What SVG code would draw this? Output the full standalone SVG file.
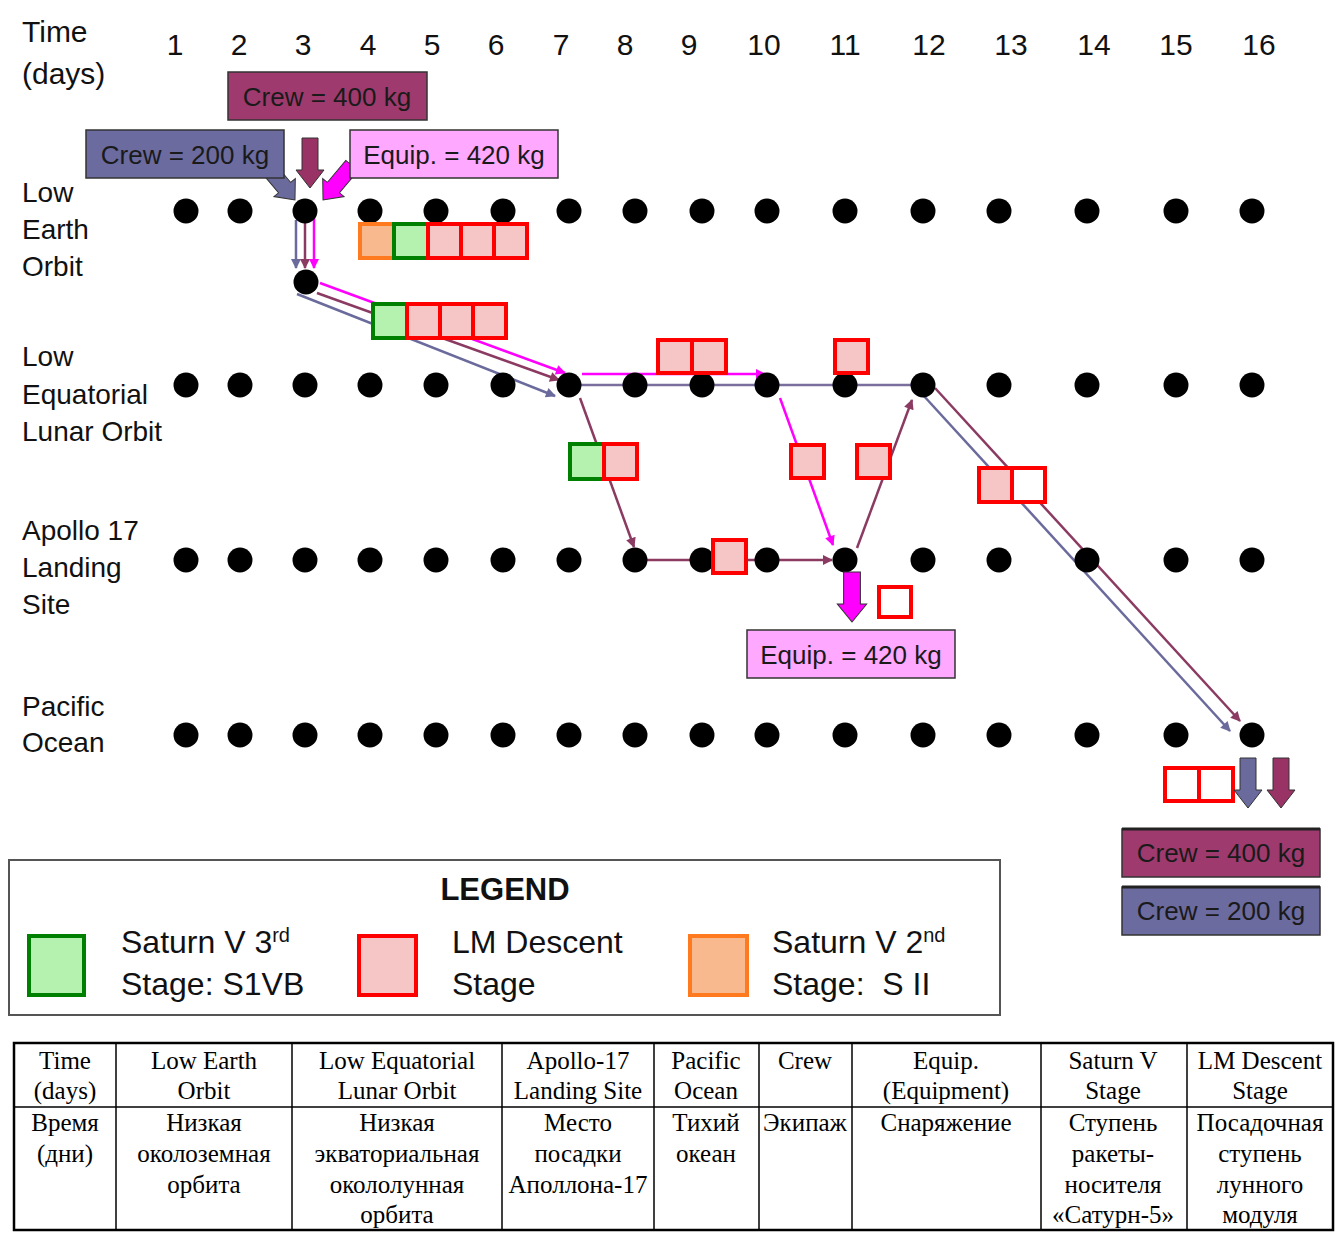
<svg xmlns="http://www.w3.org/2000/svg" width="1335" height="1237" viewBox="0 0 1335 1237">
<style>
.t{font-family:"Liberation Sans",Arial,sans-serif;fill:#111}
.hd{font-size:30px}
.rl{font-size:28px}
.lb{font-size:26px;fill:#1a1a1a}
.lg{font-size:32px}
.tb{font-family:"Liberation Serif","Times New Roman",serif;font-size:25px;fill:#000;text-anchor:middle}
.dot{fill:#000}
.red{fill:#f6c6c6;stroke:#ff0000;stroke-width:4}
.redw{fill:#fff;stroke:#ff0000;stroke-width:4}
.grn{fill:#b5f2b0;stroke:#008000;stroke-width:4}
.org{fill:#f8b98e;stroke:#ff7a1f;stroke-width:4}
.ln{fill:none;stroke-width:2.5}
.mg{stroke:#ff00ff}
.mr{stroke:#8b3a62}
.sl{stroke:#6a6a9c}
.box{stroke:#333;stroke-width:1.5}
</style>
<defs>
<marker id="amg" viewBox="0 0 10 10" refX="9" refY="5" markerWidth="13" markerHeight="10" markerUnits="userSpaceOnUse" orient="auto"><path d="M0,0L10,5L0,10z" fill="#ff00ff"/></marker>
<marker id="amr" viewBox="0 0 10 10" refX="9" refY="5" markerWidth="13" markerHeight="10" markerUnits="userSpaceOnUse" orient="auto"><path d="M0,0L10,5L0,10z" fill="#8b3a62"/></marker>
<marker id="asl" viewBox="0 0 10 10" refX="9" refY="5" markerWidth="13" markerHeight="10" markerUnits="userSpaceOnUse" orient="auto"><path d="M0,0L10,5L0,10z" fill="#6a6a9c"/></marker>
<path id="barrow" d="M-8,-50L8,-50L8,-18L14,-18L0,0L-14,-18L-8,-18z"/>
</defs>

<g id="axis-labels">
<text class="t hd" x="22" y="42">Time</text>
<text class="t hd" x="22" y="84">(days)</text>
<g class="t hd" text-anchor="middle">
<text x="175" y="55">1</text><text x="239" y="55">2</text><text x="303" y="55">3</text><text x="368" y="55">4</text>
<text x="432" y="55">5</text><text x="496" y="55">6</text><text x="561" y="55">7</text><text x="625" y="55">8</text>
<text x="689" y="55">9</text><text x="764" y="55">10</text><text x="845" y="55">11</text><text x="929" y="55">12</text>
<text x="1011" y="55">13</text><text x="1094" y="55">14</text><text x="1176" y="55">15</text><text x="1259" y="55">16</text>
</g>
<g class="t rl">
<text x="22" y="202">Low</text><text x="22" y="239">Earth</text><text x="22" y="276">Orbit</text>
<text x="22" y="366">Low</text><text x="22" y="404">Equatorial</text><text x="22" y="441">Lunar Orbit</text>
<text x="22" y="540">Apollo 17</text><text x="22" y="577">Landing</text><text x="22" y="614">Site</text>
<text x="22" y="716">Pacific</text><text x="22" y="752">Ocean</text>
</g>
</g>

<g id="connectors">
<line class="ln sl" x1="296" y1="220" x2="296" y2="268" marker-end="url(#asl)"/>
<line class="ln mr" x1="305" y1="222" x2="305" y2="268" marker-end="url(#amr)"/>
<line class="ln mg" x1="314" y1="218" x2="314" y2="268" marker-end="url(#amg)"/>
<line class="ln mg" x1="320" y1="283" x2="565" y2="373" marker-end="url(#amg)"/>
<line class="ln mr" x1="317" y1="293" x2="559" y2="380" marker-end="url(#amr)"/>
<line class="ln sl" x1="297" y1="294" x2="555" y2="396" marker-end="url(#asl)"/>
<line class="ln" stroke="#7a6f9c" x1="569" y1="385" x2="923" y2="385"/>
<line class="ln mg" x1="582" y1="374" x2="765" y2="374" marker-end="url(#amg)"/>
<line class="ln mr" x1="580" y1="398" x2="634" y2="547" marker-end="url(#amr)"/>
<line class="ln mr" x1="647" y1="560" x2="832" y2="560" marker-end="url(#amr)"/>
<line class="ln mg" x1="780" y1="398" x2="833" y2="545" marker-end="url(#amg)"/>
<line class="ln mr" x1="857" y1="548" x2="912" y2="400" marker-end="url(#amr)"/>
<line class="ln mr" x1="935" y1="388" x2="1240" y2="721" marker-end="url(#amr)"/>
<line class="ln sl" x1="923" y1="395" x2="1230" y2="731" marker-end="url(#asl)"/>
</g>

<g id="dots">
<g id="row-leo">
<circle class="dot" cx="186" cy="211" r="12.5"/><circle class="dot" cx="240" cy="211" r="12.5"/><circle class="dot" cx="305" cy="211" r="12.5"/><circle class="dot" cx="370" cy="211" r="12.5"/><circle class="dot" cx="436" cy="211" r="12.5"/><circle class="dot" cx="503" cy="211" r="12.5"/><circle class="dot" cx="569" cy="211" r="12.5"/><circle class="dot" cx="635" cy="211" r="12.5"/><circle class="dot" cx="702" cy="211" r="12.5"/><circle class="dot" cx="767" cy="211" r="12.5"/><circle class="dot" cx="845" cy="211" r="12.5"/><circle class="dot" cx="923" cy="211" r="12.5"/><circle class="dot" cx="999" cy="211" r="12.5"/><circle class="dot" cx="1087" cy="211" r="12.5"/><circle class="dot" cx="1176" cy="211" r="12.5"/><circle class="dot" cx="1252" cy="211" r="12.5"/>
<circle class="dot" cx="306" cy="282" r="12.5"/>
</g>
<g id="row-lelo">
<circle class="dot" cx="186" cy="385" r="12.5"/><circle class="dot" cx="240" cy="385" r="12.5"/><circle class="dot" cx="305" cy="385" r="12.5"/><circle class="dot" cx="370" cy="385" r="12.5"/><circle class="dot" cx="436" cy="385" r="12.5"/><circle class="dot" cx="503" cy="385" r="12.5"/><circle class="dot" cx="569" cy="385" r="12.5"/><circle class="dot" cx="635" cy="385" r="12.5"/><circle class="dot" cx="702" cy="385" r="12.5"/><circle class="dot" cx="767" cy="385" r="12.5"/><circle class="dot" cx="845" cy="385" r="12.5"/><circle class="dot" cx="923" cy="385" r="12.5"/><circle class="dot" cx="999" cy="385" r="12.5"/><circle class="dot" cx="1087" cy="385" r="12.5"/><circle class="dot" cx="1176" cy="385" r="12.5"/><circle class="dot" cx="1252" cy="385" r="12.5"/>
</g>
<g id="row-landing">
<circle class="dot" cx="186" cy="560" r="12.5"/><circle class="dot" cx="240" cy="560" r="12.5"/><circle class="dot" cx="305" cy="560" r="12.5"/><circle class="dot" cx="370" cy="560" r="12.5"/><circle class="dot" cx="436" cy="560" r="12.5"/><circle class="dot" cx="503" cy="560" r="12.5"/><circle class="dot" cx="569" cy="560" r="12.5"/><circle class="dot" cx="635" cy="560" r="12.5"/><circle class="dot" cx="702" cy="560" r="12.5"/><circle class="dot" cx="767" cy="560" r="12.5"/><circle class="dot" cx="845" cy="560" r="12.5"/><circle class="dot" cx="923" cy="560" r="12.5"/><circle class="dot" cx="999" cy="560" r="12.5"/><circle class="dot" cx="1087" cy="560" r="12.5"/><circle class="dot" cx="1176" cy="560" r="12.5"/><circle class="dot" cx="1252" cy="560" r="12.5"/>
</g>
<g id="row-pacific">
<circle class="dot" cx="186" cy="735" r="12.5"/><circle class="dot" cx="240" cy="735" r="12.5"/><circle class="dot" cx="305" cy="735" r="12.5"/><circle class="dot" cx="370" cy="735" r="12.5"/><circle class="dot" cx="436" cy="735" r="12.5"/><circle class="dot" cx="503" cy="735" r="12.5"/><circle class="dot" cx="569" cy="735" r="12.5"/><circle class="dot" cx="635" cy="735" r="12.5"/><circle class="dot" cx="702" cy="735" r="12.5"/><circle class="dot" cx="767" cy="735" r="12.5"/><circle class="dot" cx="845" cy="735" r="12.5"/><circle class="dot" cx="923" cy="735" r="12.5"/><circle class="dot" cx="999" cy="735" r="12.5"/><circle class="dot" cx="1087" cy="735" r="12.5"/><circle class="dot" cx="1176" cy="735" r="12.5"/><circle class="dot" cx="1252" cy="735" r="12.5"/>
</g>
</g>

<g id="stages">
<g id="leo-stack"><rect class="org" x="360" y="224" width="34" height="34"/><rect class="grn" x="394" y="224" width="34" height="34"/><rect class="red" x="428" y="224" width="33" height="34"/><rect class="red" x="461" y="224" width="33" height="34"/><rect class="red" x="494" y="224" width="33" height="34"/></g>
<g id="transfer-stack"><rect class="grn" x="373" y="304" width="34" height="34"/><rect class="red" x="407" y="304" width="33" height="34"/><rect class="red" x="440" y="304" width="33" height="34"/><rect class="red" x="473" y="304" width="33" height="34"/></g>
<g id="lelo-pair"><rect class="red" x="658" y="340" width="34" height="33"/><rect class="red" x="692" y="340" width="34" height="33"/></g>
<g id="lelo-single"><rect class="red" x="835" y="340" width="33" height="33"/></g>
<g id="descent-stack"><rect class="grn" x="570" y="444" width="34" height="35"/><rect class="red" x="604" y="444" width="33" height="35"/></g>
<g id="descent-b"><rect class="red" x="791" y="445" width="33" height="33"/></g>
<g id="ascent-b"><rect class="red" x="857" y="445" width="33" height="33"/></g>
<g id="return-pair"><rect class="red" x="979" y="468" width="33" height="34"/><rect class="redw" x="1012" y="468" width="33" height="34"/></g>
<g id="landing-stage"><rect class="red" x="713" y="540" width="33" height="33"/></g>
<g id="empty-stage"><rect class="redw" x="879" y="587" width="32" height="30"/></g>
<g id="pacific-pair"><rect class="redw" x="1165" y="768" width="34" height="33"/><rect class="redw" x="1199" y="768" width="34" height="33"/></g>
</g>

<g id="block-arrows">
<use href="#barrow" transform="translate(310,188)" fill="#993366" stroke="#333" stroke-width="1"/>
<use href="#barrow" transform="translate(295,200) rotate(-40) scale(1,0.9)" fill="#6a6a9c" stroke="#333" stroke-width="1"/>
<use href="#barrow" transform="translate(323,200) rotate(40) scale(1,0.9)" fill="#ff00ff" stroke="#333" stroke-width="1"/>
<use href="#barrow" transform="translate(852,622) scale(1.05,1)" fill="#ff00ff" stroke="#333" stroke-width="1"/>
<use href="#barrow" transform="translate(1248,808)" fill="#6a6a9c" stroke="#333" stroke-width="1"/>
<use href="#barrow" transform="translate(1281,808)" fill="#993366" stroke="#333" stroke-width="1"/>
</g>

<g id="labels">
<g id="crew400-top"><rect class="box" x="228" y="72" width="199" height="48" fill="#9e3a6e"/><text class="t lb" x="327" y="106" text-anchor="middle">Crew = 400 kg</text></g>
<g id="crew200-top"><rect class="box" x="86" y="130" width="198" height="48" fill="#6b6ba0"/><text class="t lb" x="185" y="164" text-anchor="middle">Crew = 200 kg</text></g>
<g id="equip-top"><rect class="box" x="350" y="130" width="208" height="48" fill="#ffa8ff"/><text class="t lb" x="454" y="164" text-anchor="middle">Equip. = 420 kg</text></g>
<g id="equip-bottom"><rect class="box" x="747" y="630" width="208" height="48" fill="#ffa8ff"/><text class="t lb" x="851" y="664" text-anchor="middle">Equip. = 420 kg</text></g>
<g id="crew400-bottom"><rect class="box" x="1122" y="829" width="198" height="48" fill="#9e3a6e"/><line x1="1122" y1="829" x2="1320" y2="829" stroke="#222" stroke-width="3"/><text class="t lb" x="1221" y="862" text-anchor="middle">Crew = 400 kg</text></g>
<g id="crew200-bottom"><rect class="box" x="1122" y="887" width="198" height="48" fill="#6b6ba0"/><line x1="1122" y1="887" x2="1320" y2="887" stroke="#222" stroke-width="3"/><text class="t lb" x="1221" y="920" text-anchor="middle">Crew = 200 kg</text></g>
</g>

<g id="legend">
<rect x="9" y="860" width="991" height="155" fill="#fff" stroke="#555" stroke-width="2"/>
<text class="t" x="505" y="900" font-size="31" font-weight="bold" text-anchor="middle">LEGEND</text>
<rect class="grn" x="29" y="936" width="55" height="59"/>
<rect class="red" x="359" y="936" width="57" height="59"/>
<rect class="org" x="690" y="936" width="57" height="59"/>
<text class="t lg" x="121" y="953">Saturn V 3<tspan dy="-11" font-size="20">rd</tspan></text>
<text class="t lg" x="121" y="995">Stage: S1VB</text>
<text class="t lg" x="452" y="953">LM Descent</text>
<text class="t lg" x="452" y="995">Stage</text>
<text class="t lg" x="772" y="953">Saturn V 2<tspan dy="-11" font-size="20">nd</tspan></text>
<text class="t lg" x="772" y="995" xml:space="preserve">Stage:  S II</text>
</g>

<g id="glossary-table">
<rect x="14" y="1043" width="1319" height="187" fill="none" stroke="#000" stroke-width="2.5"/>
<g stroke="#000" stroke-width="1.5">
<line x1="14" y1="1107" x2="1333" y2="1107"/>
<line x1="116" y1="1043" x2="116" y2="1230"/>
<line x1="292" y1="1043" x2="292" y2="1230"/>
<line x1="502" y1="1043" x2="502" y2="1230"/>
<line x1="654" y1="1043" x2="654" y2="1230"/>
<line x1="759" y1="1043" x2="759" y2="1230"/>
<line x1="852" y1="1043" x2="852" y2="1230"/>
<line x1="1041" y1="1043" x2="1041" y2="1230"/>
<line x1="1187" y1="1043" x2="1187" y2="1230"/>
</g>
<g class="tb">
<text x="65" y="1069">Time</text><text x="65" y="1099">(days)</text>
<text x="204" y="1069">Low Earth</text><text x="204" y="1099">Orbit</text>
<text x="397" y="1069">Low Equatorial</text><text x="397" y="1099">Lunar Orbit</text>
<text x="578" y="1069">Apollo-17</text><text x="578" y="1099">Landing Site</text>
<text x="706" y="1069">Pacific</text><text x="706" y="1099">Ocean</text>
<text x="805" y="1069">Crew</text>
<text x="946" y="1069">Equip.</text><text x="946" y="1099">(Equipment)</text>
<text x="1113" y="1069">Saturn V</text><text x="1113" y="1099">Stage</text>
<text x="1260" y="1069">LM Descent</text><text x="1260" y="1099">Stage</text>
<text x="65" y="1131">Время</text><text x="65" y="1162">(дни)</text>
<text x="204" y="1131">Низкая</text><text x="204" y="1162">околоземная</text><text x="204" y="1193">орбита</text>
<text x="397" y="1131">Низкая</text><text x="397" y="1162">экваториальная</text><text x="397" y="1193">окололунная</text><text x="397" y="1223">орбита</text>
<text x="578" y="1131">Место</text><text x="578" y="1162">посадки</text><text x="578" y="1193">Аполлона-17</text>
<text x="706" y="1131">Тихий</text><text x="706" y="1162">океан</text>
<text x="805" y="1131">Экипаж</text>
<text x="946" y="1131">Снаряжение</text>
<text x="1113" y="1131">Ступень</text><text x="1113" y="1162">ракеты-</text><text x="1113" y="1193">носителя</text><text x="1113" y="1223">«Сатурн-5»</text>
<text x="1260" y="1131">Посадочная</text><text x="1260" y="1162">ступень</text><text x="1260" y="1193">лунного</text><text x="1260" y="1223">модуля</text>
</g>
</g>
</svg>
